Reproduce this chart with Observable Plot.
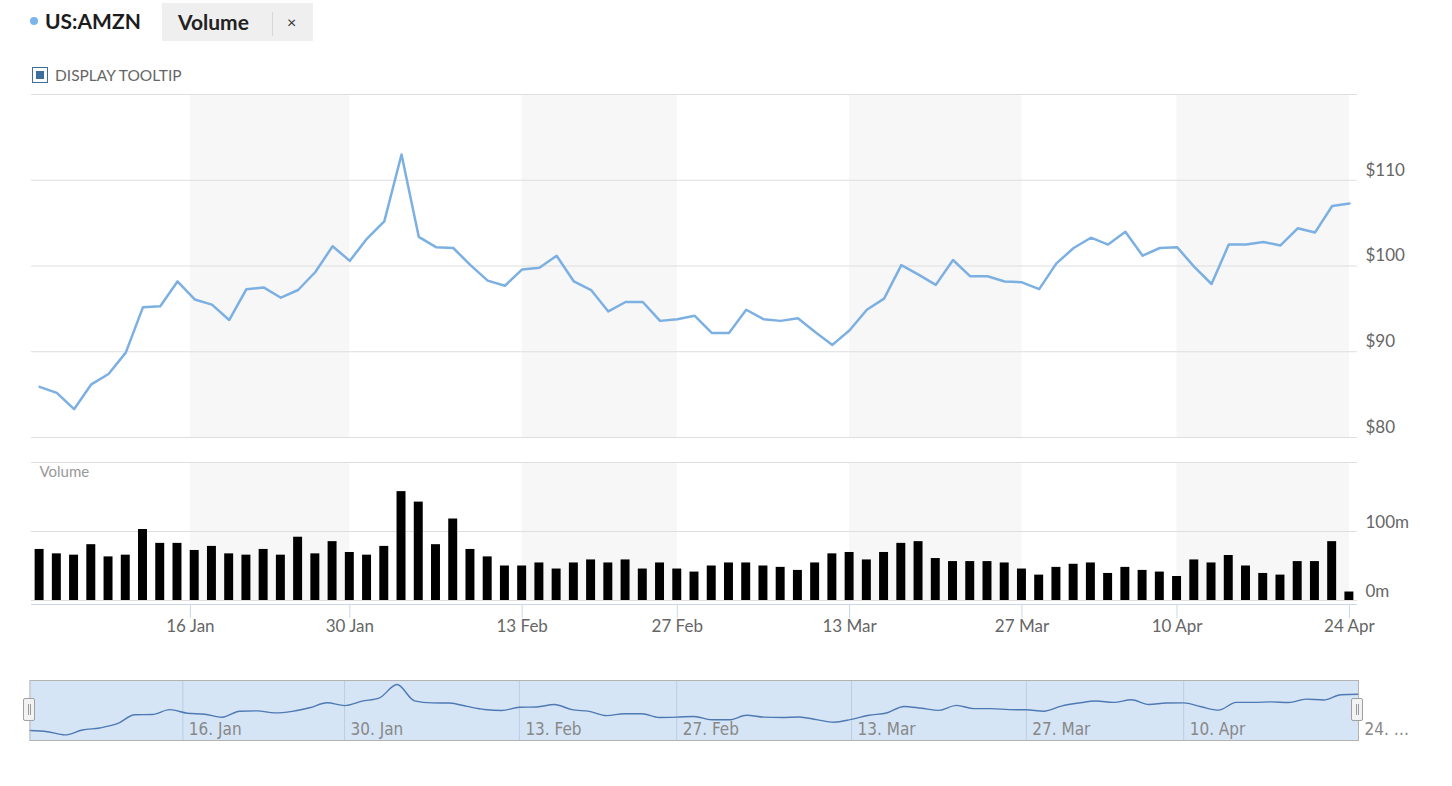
<!DOCTYPE html>
<html>
<head>
<meta charset="utf-8">
<script src="https://cdn.jsdelivr.net/npm/d3@7"></script>
<script src="https://cdn.jsdelivr.net/npm/@observablehq/plot@0.6"></script>
<style>
  html, body { margin: 0; padding: 0; background: #fff; width: 1452px; height: 786px; overflow: hidden; }
  body { position: relative; font-family: Lato, "Open Sans", sans-serif; }
  .abs { position: absolute; }
  #dot { left: 30px; top: 17px; width: 8px; height: 8px; border-radius: 50%; background: #7cb5ec; }
  #ticker { left: 45px; top: 7px; font-size: 21px; font-weight: 700; color: #1c1c1c; line-height: 28px; }
  #btn { left: 162px; top: 3px; width: 151px; height: 38px; background: #efefef; }
  #btnText { left: 16px; top: 5px; font-size: 21px; font-weight: 700; color: #222; line-height: 28px; }
  #btnSep { left: 110px; top: 9px; width: 1px; height: 24px; background: #d8d8d8; }
  #btnX { left: 125px; top: 6px; font-size: 16px; color: #333; line-height: 26px; }
  #chk { left: 32px; top: 67px; width: 14px; height: 14px; border: 1.5px solid #3d6f9c; background: #fff; }
  #chkIn { left: 3px; top: 3px; width: 8px; height: 8px; background: #3d6f9c; }
  #chkText { left: 55px; top: 65px; font-size: 15.5px; color: #666; line-height: 20px; }
  .chart { position: absolute; left: 0; }
  .handle { position: absolute; width: 10px; height: 21px; background: #f2f2f2; border: 1px solid #a0a0a0; border-radius: 2px; box-sizing: content-box; }
  .handle::before, .handle::after { content: ""; position: absolute; top: 5px; width: 1px; height: 11px; background: #9a9a9a; }
  .handle::before { left: 3.5px; }
  .handle::after { left: 6px; }
</style>
</head>
<body>
<div id="dot" class="abs"></div>
<div id="ticker" class="abs">US:AMZN</div>
<div id="btn" class="abs">
  <div id="btnText" class="abs">Volume</div>
  <div id="btnSep" class="abs"></div>
  <div id="btnX" class="abs">×</div>
</div>
<div id="chk" class="abs"><div id="chkIn" class="abs"></div></div>
<div id="chkText" class="abs">DISPLAY TOOLTIP</div>
<div id="price" class="chart" style="top:80px"></div>
<div id="volume" class="chart" style="top:450px"></div>
<div id="nav" class="chart" style="top:670px"></div>
<div class="handle" style="left:23px; top:698px"></div>
<div class="handle" style="left:1351px; top:698px"></div>
<script>
// ---- data (trading days) ----
const dates = [
  "2023-01-03","2023-01-04","2023-01-05","2023-01-06","2023-01-09","2023-01-10","2023-01-11","2023-01-12","2023-01-13",
  "2023-01-17","2023-01-18","2023-01-19","2023-01-20","2023-01-23","2023-01-24","2023-01-25","2023-01-26","2023-01-27",
  "2023-01-30","2023-01-31","2023-02-01","2023-02-02","2023-02-03","2023-02-06","2023-02-07","2023-02-08","2023-02-09",
  "2023-02-10","2023-02-13","2023-02-14","2023-02-15","2023-02-16","2023-02-17","2023-02-21","2023-02-22","2023-02-23",
  "2023-02-24","2023-02-27","2023-02-28","2023-03-01","2023-03-02","2023-03-03","2023-03-06","2023-03-07","2023-03-08",
  "2023-03-09","2023-03-10","2023-03-13","2023-03-14","2023-03-15","2023-03-16","2023-03-17","2023-03-20","2023-03-21",
  "2023-03-22","2023-03-23","2023-03-24","2023-03-27","2023-03-28","2023-03-29","2023-03-30","2023-03-31","2023-04-03",
  "2023-04-04","2023-04-05","2023-04-06","2023-04-10","2023-04-11","2023-04-12","2023-04-13","2023-04-14","2023-04-17",
  "2023-04-18","2023-04-19","2023-04-20","2023-04-21","2023-04-24"
];
const closes = [
  85.9, 85.2, 83.3, 86.2, 87.4, 89.9, 95.2, 95.3, 98.2,
  96.1, 95.5, 93.7, 97.3, 97.5, 96.3, 97.2, 99.3, 102.3,
  100.6, 103.2, 105.2, 113.0, 103.4, 102.2, 102.1, 100.1, 98.3,
  97.7, 99.6, 99.8, 101.2, 98.2, 97.2, 94.7, 95.8, 95.8,
  93.6, 93.8, 94.2, 92.2, 92.2, 94.9, 93.8, 93.6, 93.9,
  92.3, 90.8, 92.5, 94.9, 96.2, 100.1, 99.0, 97.8, 100.7,
  98.8, 98.8, 98.2, 98.1, 97.3, 100.3, 102.1, 103.3, 102.5,
  104.0, 101.2, 102.1, 102.2, 99.9, 97.9, 102.5, 102.5, 102.8,
  102.4, 104.4, 103.9, 107.0, 107.3
];
const volumes = [ // millions
  74.0, 67.6, 65.7, 80.9, 63.2, 65.7, 102.9, 82.8, 82.8,
  72.5, 78.4, 67.6, 65.7, 74.0, 65.7, 91.7, 67.6, 85.3,
  69.6, 65.7, 78.4, 157.8, 142.6, 80.9, 118.1, 74.0, 63.2,
  50.0, 50.0, 54.4, 45.6, 54.4, 58.8, 54.4, 58.8, 45.6,
  54.4, 45.6, 41.2, 50.0, 54.4, 54.4, 50.0, 48.0, 43.6,
  54.4, 67.6, 69.6, 58.8, 69.6, 82.8, 85.3, 60.8, 56.4,
  56.4, 56.4, 54.4, 45.6, 36.8, 48.0, 52.5, 54.4, 39.2,
  48.0, 43.6, 41.2, 34.8, 58.8, 54.4, 65.2, 50.0, 39.2,
  36.8, 56.4, 56.4, 85.3, 12.3
];
const tickDates = ["2023-01-16","2023-01-30","2023-02-13","2023-02-27","2023-03-13","2023-03-27","2023-04-10","2023-04-24"];
const tickLabels = ["16 Jan","30 Jan","13 Feb","27 Feb","13 Mar","27 Mar","10 Apr","24 Apr"];
const navLabels = ["16. Jan","30. Jan","13. Feb","27. Feb","13. Mar","27. Mar","10. Apr","24. …"];
const priceGrid = [80, 90, 100, 110, 120];
const priceTicks = [80, 90, 100, 110];
const volumeGrid = [0, 100, 200];
const volumeTicks = [0, 100];

// ---- derived tables ----
const times = dates.map(d => Date.parse(d));
function ordinalPos(ds) {
  const t = Date.parse(ds);
  const i = times.findIndex(x => x >= t);
  if (i < 0) return times.length - 1;
  if (times[i] === t || i === 0) return i;
  return i - 1 + (t - times[i - 1]) / (times[i] - times[i - 1]);
}
const data = dates.map((d, i) => ({i, date: d, close: closes[i], volume: volumes[i]}));
const tickPos = tickDates.map(ordinalPos);
const labelByPos = new Map(tickPos.map((p, k) => [p, tickLabels[k]]));
const ticks = tickPos.map((p, k) => ({p, label: tickLabels[k], nav: navLabels[k]}));
const bands = [];
for (let k = 0; k + 1 < tickPos.length; k += 2) bands.push({x1: tickPos[k], x2: tickPos[k + 1]});

const xDomain = [-0.47, data.length - 1 + 0.47];
const font = "Lato, 'Open Sans', sans-serif";
const gridColor = "#dedede";
const labelColor = "#666";

const price = Plot.plot({
  width: 1452, height: 370,
  marginTop: 14, marginBottom: 13, marginLeft: 31, marginRight: 95,
  x: {domain: xDomain, axis: null},
  y: {domain: [80, 120], axis: null},
  style: {fontFamily: font, background: "transparent", overflow: "visible"},
  marks: [
    Plot.rect(bands, {x1: "x1", x2: "x2", fill: "#f7f7f7"}),
    Plot.ruleY(priceGrid, {stroke: gridColor}),
    Plot.line(data, {x: "i", y: "close", stroke: "#7cb0e2", strokeWidth: 2.5, strokeLinejoin: "round"}),
    Plot.text(priceTicks, {y: d => d, text: d => "$" + d, frameAnchor: "right", textAnchor: "start", dx: 8, dy: -10, fontSize: 17, fill: labelColor})
  ]
});
document.getElementById("price").appendChild(price);

const volume = Plot.plot({
  width: 1452, height: 200,
  marginTop: 12, marginBottom: 50, marginLeft: 31, marginRight: 95,
  x: {domain: xDomain},
  y: {domain: [0, 200], axis: null},
  style: {fontFamily: font, background: "transparent", overflow: "visible"},
  marks: [
    Plot.rect(bands, {x1: "x1", x2: "x2", fill: "#f7f7f7"}),
    Plot.ruleY(volumeGrid, {stroke: gridColor}),
    Plot.rectY(data, {x1: d => d.i - 0.26, x2: d => d.i + 0.26, y: "volume", fill: "#000"}),
    Plot.ruleY([0], {stroke: "#ccd6eb", dy: 4}),
    Plot.axisX(tickPos, {tickSize: 14, tickPadding: 1, dy: 4, stroke: "#ccd6eb", fill: labelColor, fontSize: 17, tickFormat: d => labelByPos.get(d), label: null}),
    Plot.text(volumeTicks, {y: d => d, text: d => d + "m", frameAnchor: "right", textAnchor: "start", dx: 8, dy: -9, fontSize: 17, fill: labelColor}),
    Plot.text(["Volume"], {frameAnchor: "top-left", dx: 8, dy: 4, fontSize: 15, fill: "#999"})
  ]
});
document.getElementById("volume").appendChild(volume);

const nav = Plot.plot({
  width: 1452, height: 100,
  marginTop: 10, marginBottom: 30, marginLeft: 29.4, marginRight: 94,
  x: {domain: [0, data.length - 1], axis: null},
  y: {domain: [80, 115.4], axis: null},
  style: {fontFamily: "'DejaVu Sans Condensed', 'Liberation Sans Narrow', sans-serif", background: "transparent", overflow: "visible"},
  marks: [
    Plot.frame({fill: "#d5e5f6", stroke: null}),
    Plot.ruleX(tickPos.slice(0, -1), {stroke: "#bccde2"}),
    Plot.line(data, {x: "i", y: "close", curve: "monotone-x", stroke: "#4e79b3", strokeWidth: 1.4}),
    Plot.frame({stroke: "#b3b3b3"}),
    Plot.text(ticks, {x: "p", text: "nav", frameAnchor: "bottom", textAnchor: "start", dx: 6, dy: -6, fontSize: 17, fill: "#888"})
  ]
});
document.getElementById("nav").appendChild(nav);
</script>
</body>
</html>
